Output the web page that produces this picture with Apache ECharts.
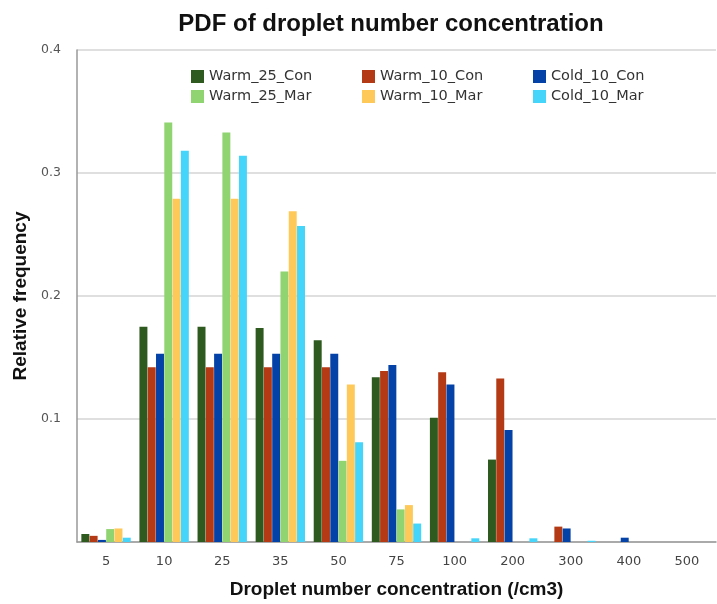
<!DOCTYPE html>
<html>
<head>
<meta charset="utf-8">
<script src="https://cdn.jsdelivr.net/npm/echarts@6/dist/echarts.min.js"></script>
<style>
  html, body { margin: 0; padding: 0; background: #fff; }
  #chart { width: 717px; height: 604px; }
</style>
</head>
<body>
<div id="chart"></div>
<script>
// Concentration bins (/cm3)
const categories = ['5', '10', '25', '35', '50', '75', '100', '200', '300', '400', '500'];

// Relative frequency per bin for each simulation
const warm25Con = [0.0065, 0.175, 0.175, 0.174, 0.164, 0.134, 0.101, 0.067, 0, 0, 0];
const warm10Con = [0.005, 0.142, 0.142, 0.142, 0.142, 0.139, 0.138, 0.133, 0.0125, 0, 0];
const cold10Con = [0.0017, 0.153, 0.153, 0.153, 0.153, 0.144, 0.128, 0.091, 0.011, 0.0035, 0];
const warm25Mar = [0.0105, 0.341, 0.333, 0.220, 0.066, 0.0265, 0, 0, 0, 0, 0];
const warm10Mar = [0.011, 0.279, 0.279, 0.269, 0.128, 0.030, 0, 0, 0, 0, 0];
const cold10Mar = [0.0035, 0.318, 0.314, 0.257, 0.081, 0.015, 0.003, 0.003, 0.001, 0, 0];

const seriesNames = ['Warm_25_Con', 'Warm_10_Con', 'Cold_10_Con', 'Warm_25_Mar', 'Warm_10_Mar', 'Cold_10_Mar'];
const seriesData = [warm25Con, warm10Con, cold10Con, warm25Mar, warm10Mar, cold10Mar];
const colors = ['#2e5a1f', '#b33a14', '#0542a8', '#8fd470', '#ffc95a', '#45d5fa'];

const chart = echarts.init(document.getElementById('chart'), null, { renderer: 'canvas' });

const legendBase = {
  orient: 'vertical',
  itemWidth: 13,
  itemHeight: 13,
  itemGap: 5,
  icon: 'rect',
  top: 64,
  textStyle: { fontFamily: 'DejaVu Sans', fontSize: 14.5, color: '#333' }
};

chart.setOption({
  animation: false,
  color: colors,
  title: {
    text: 'PDF of droplet number concentration',
    left: 386,
    textAlign: 'center',
    top: 7,
    textStyle: { fontFamily: 'Liberation Sans', fontSize: 24, fontWeight: 'bold', color: '#111' }
  },
  legend: [
    Object.assign({}, legendBase, { left: 186, data: [seriesNames[0], seriesNames[3]] }),
    Object.assign({}, legendBase, { left: 357, data: [seriesNames[1], seriesNames[4]] }),
    Object.assign({}, legendBase, { left: 528, data: [seriesNames[2], seriesNames[5]] })
  ],
  grid: { left: 77, right: 1, top: 50, bottom: 62 },
  xAxis: {
    type: 'category',
    data: categories,
    boundaryGap: true,
    axisTick: { show: false },
    axisLine: { lineStyle: { color: '#999', width: 1.5 } },
    axisLabel: { fontFamily: 'DejaVu Sans', fontSize: 13, color: '#444', margin: 13 },
    name: 'Droplet number concentration (/cm3)',
    nameLocation: 'middle',
    nameGap: 38,
    nameTextStyle: { fontFamily: 'Liberation Sans', fontSize: 19, fontWeight: 'bold', color: '#111' }
  },
  yAxis: {
    type: 'value',
    min: 0,
    max: 0.4,
    interval: 0.1,
    name: 'Relative frequency',
    nameLocation: 'middle',
    nameGap: 47,
    nameTextStyle: { fontFamily: 'Liberation Sans', fontSize: 19, fontWeight: 'bold', color: '#111' },
    axisLine: { show: true, lineStyle: { color: '#999', width: 1.5 } },
    axisTick: { show: false },
    splitLine: { lineStyle: { color: '#d4d4d4', width: 1.5 } },
    axisLabel: {
      fontFamily: 'DejaVu Sans', fontSize: 12.5, color: '#555', margin: 16,
      formatter: v => (v === 0 ? '' : v.toFixed(1))
    }
  },
  series: seriesNames.map((name, i) => ({
    name,
    type: 'bar',
    data: seriesData[i],
    barGap: '4%',
    barCategoryGap: '15%'
  }))
});
</script>
</body>
</html>
